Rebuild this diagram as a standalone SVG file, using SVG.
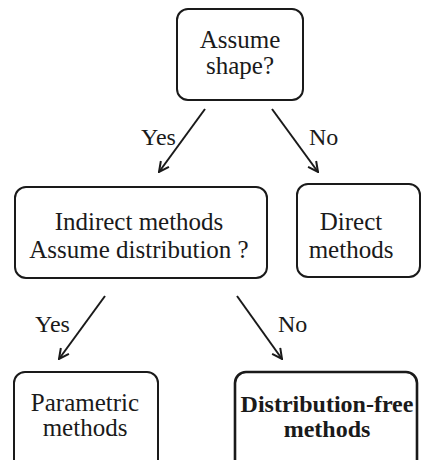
<svg xmlns="http://www.w3.org/2000/svg" width="422" height="460" viewBox="0 0 422 460">
<style>
.box{fill:#fff;stroke:#1a1a1a;stroke-width:2}
.bold{stroke-width:2.6}
text{font-family:'Liberation Serif','Times New Roman',serif;font-size:25px;fill:#1a1a1a}
.c{text-anchor:middle}
.b{font-weight:700;font-size:24px}
.lbl{font-size:24px}
.conn{stroke:#1a1a1a;stroke-width:2;fill:none;marker-end:url(#arr)}
</style>
<defs>
<marker id="arr" viewBox="0 0 12 12" refX="11" refY="6" markerWidth="12" markerHeight="12" markerUnits="userSpaceOnUse" orient="auto">
<path d="M1,1 L11,6 L1,11" fill="none" stroke="#1a1a1a" stroke-width="2"/>
</marker>
</defs>
<rect width="422" height="460" fill="#fff"/>
<g id="connectors">
<line class="conn" x1="205" y1="109" x2="159" y2="172"/>
<line class="conn" x1="272" y1="109" x2="318" y2="172"/>
<line class="conn" x1="105" y1="296" x2="59" y2="359"/>
<line class="conn" x1="237" y1="296" x2="282" y2="359"/>
<text class="lbl" x="141" y="145">Yes</text>
<text class="lbl" x="309" y="145">No</text>
<text class="lbl" x="35" y="332">Yes</text>
<text class="lbl" x="278" y="332">No</text>
</g>
<g id="n-assume-shape">
<rect class="box" x="177" y="9" width="126" height="91" rx="11"/>
<text class="c" x="240" y="48">Assume</text>
<text class="c" x="240" y="74">shape?</text>
</g>
<g id="n-indirect">
<rect class="box" x="15" y="187" width="252" height="91" rx="11"/>
<text class="c" x="139" y="230">Indirect methods</text>
<text class="c" x="139" y="258">Assume distribution ?</text>
</g>
<g id="n-direct">
<rect class="box" x="297" y="184" width="123" height="93" rx="11"/>
<text class="c" x="351" y="230">Direct</text>
<text class="c" x="351" y="258">methods</text>
</g>
<g id="n-parametric">
<rect class="box" x="14" y="372" width="144" height="100" rx="11"/>
<text class="c" x="85" y="411">Parametric</text>
<text class="c" x="85" y="436">methods</text>
</g>
<g id="n-distfree">
<rect class="box bold" x="235" y="372" width="182" height="100" rx="11"/>
<text class="c b" x="327" y="412">Distribution-free</text>
<text class="c b" x="327" y="437">methods</text>
</g>
</svg>
